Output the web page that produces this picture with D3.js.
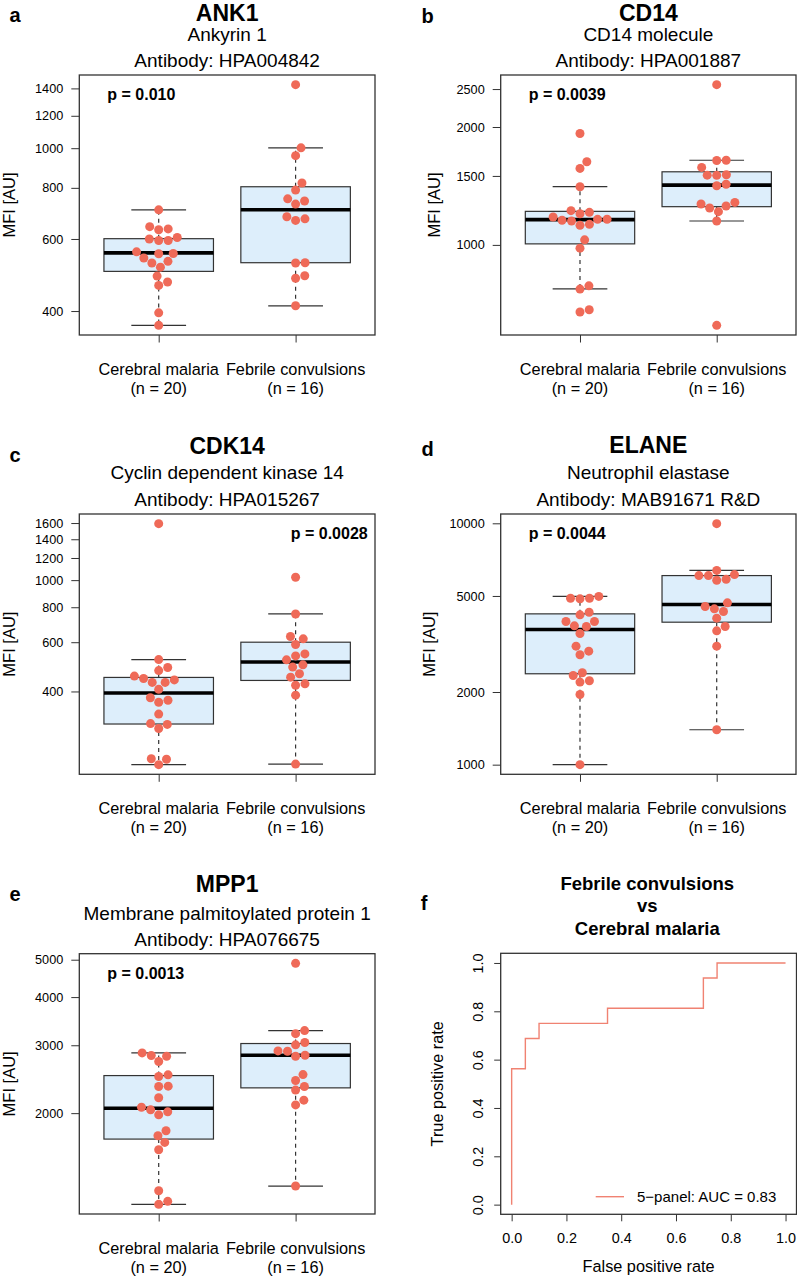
<!DOCTYPE html>
<html><head><meta charset="utf-8">
<script src="https://cdn.jsdelivr.net/npm/d3@7"></script>
<style>
body{margin:0;background:#fff}
svg{display:block}
text{font-family:"Liberation Sans",Arial,Helvetica,sans-serif;fill:#000}
</style>
</head><body>
<svg id="chart" width="797" height="1277"></svg>
<script>
// ---------------- DATA ----------------
const categories = ["Cerebral malaria", "Febrile convulsions"];
const groupN = [20, 16];
const panelLetters = ["a", "b", "c", "d", "e", "f"];
const genes = ["ANK1", "CD14", "CDK14", "ELANE", "MPP1"];
const proteinNames = ["Ankyrin 1", "CD14 molecule", "Cyclin dependent kinase 14", "Neutrophil elastase", "Membrane palmitoylated protein 1"];
const antibodies = ["Antibody: HPA004842", "Antibody: HPA001887", "Antibody: HPA015267", "Antibody: MAB91671 R&D", "Antibody: HPA076675"];
const pValues = ["p = 0.010", "p = 0.0039", "p = 0.0028", "p = 0.0044", "p = 0.0013"];
const yTicks = [
  [400, 600, 800, 1000, 1200, 1400],
  [1000, 1500, 2000, 2500],
  [400, 600, 800, 1000, 1200, 1400, 1600],
  [1000, 2000, 5000, 10000],
  [2000, 3000, 4000, 5000]
];

const ank1CM = [707, 643, 632, 635, 600, 595, 595, 605, 558, 552, 553, 539, 524, 529, 512, 487, 471, 462, 396, 369];
const ank1FC = [1430, 1002, 959, 822, 790, 752, 743, 730, 680, 666, 672, 524, 525, 481, 488, 412];
const cd14CM = [1925, 1630, 1568, 1408, 1223, 1211, 1201, 1178, 1156, 1151, 1162, 1163, 1122, 1129, 1030, 981, 771, 786, 674, 683];
const cd14FC = [2566, 1643, 1645, 1577, 1505, 1507, 1510, 1416, 1428, 1272, 1284, 1242, 1257, 1216, 1151, 623];
const cdk14CM = [1592, 520, 487, 475, 454, 440, 431, 431, 445, 407, 380, 366, 372, 332, 307, 305, 295, 230, 229, 219];
const cdk14FC = [1024, 757, 629, 617, 589, 545, 536, 519, 498, 489, 463, 450, 426, 421, 388, 220];
const elaneCM = [4894, 4863, 4894, 4980, 4175, 4282, 3919, 3760, 3736, 3919, 3494, 3097, 2953, 2852, 2403, 2342, 2198, 2226, 1954, 1000];
const elaneFC = [9968, 6380, 6073, 6073, 6131, 5810, 5866, 4681, 4522, 4422, 4310, 4045, 3736, 3585, 3097, 1395];
const mpp1CM = [2866, 2821, 2810, 2723, 2489, 2514, 2345, 2350, 2192, 2072, 2040, 1980, 2016, 1747, 1800, 1679, 1607, 1258, 1181, 1160];
const mpp1FC = [4893, 3215, 3274, 3007, 3049, 2900, 2895, 2810, 2826, 2430, 2518, 2295, 2345, 2101, 2161, 1294];

// box statistics: [lower whisker, Q1, median, Q3, upper whisker]
const ank1BoxCM = [369, 500, 555, 601, 707];
const ank1BoxFC = [412, 525, 707, 805, 1002];
const cd14BoxCM = [772, 1006, 1160, 1218, 1408];
const cd14BoxFC = [1151, 1252, 1421, 1537, 1645];
const cdk14BoxCM = [219, 306, 395, 449, 520];
const cdk14BoxFC = [220, 438, 510, 600, 757];
const elaneBoxCM = [1000, 2380, 3631, 4215, 4980];
const elaneBoxFC = [1395, 3893, 4607, 6073, 6380];
const mpp1BoxCM = [1160, 1713, 2060, 2503, 2866];
const mpp1BoxFC = [1294, 2326, 2826, 3031, 3274];

// ROC curve (panel f)
const rocTitle = ["Febrile convulsions", "vs", "Cerebral malaria"];
const rocFPR = [0, 0, 0.05, 0.1, 0.35, 0.7, 0.75, 1];
const rocTPR = [0, 0.5625, 0.6875, 0.75, 0.8125, 0.9375, 1, 1];
const rocTicks = [0, 0.2, 0.4, 0.6, 0.8, 1.0];
const rocLegend = "5\u2212panel: AUC = 0.83";

const groupData = [[ank1CM, ank1FC], [cd14CM, cd14FC], [cdk14CM, cdk14FC], [elaneCM, elaneFC], [mpp1CM, mpp1FC]];
const boxData = [[ank1BoxCM, ank1BoxFC], [cd14BoxCM, cd14BoxFC], [cdk14BoxCM, cdk14BoxFC], [elaneBoxCM, elaneBoxFC], [mpp1BoxCM, mpp1BoxFC]];

// ---------------- LAYOUT / STYLE ----------------
const FRAME = "#333";
const DOT = "#EF6A58";
const BOXFILL = "#DDEEFB";
const ROCCOL = "#F08272";
const FONT_TITLE = 23, FONT_SUB = 19, FONT_TICK = 12.7, FONT_CAT = 16.3, FONT_YT = 16.5, FONT_P = 16, FONT_LET = 20;

const layout = [
  {left: 79.3, right: 375, top: 75, bottom: 335, lx: 15, ly: 22.3, tOff: [-54.5, -34.3, -8.3], pEnd: false, ytOff: 64.3},
  {left: 500.7, right: 796, top: 75, bottom: 335, lx: 427.7, ly: 23, tOff: [-54.5, -34.3, -8.3], pEnd: false, ytOff: 61},
  {left: 79.3, right: 375, top: 514, bottom: 774.3, lx: 15, ly: 461.7, tOff: [-60.3, -34.7, -8.3], pEnd: true, ytOff: 64.3},
  {left: 500.7, right: 796, top: 514, bottom: 774.3, lx: 427.7, ly: 456, tOff: [-60.7, -34.7, -8.3], pEnd: false, ytOff: 66},
  {left: 79.3, right: 375, top: 953.7, bottom: 1214, lx: 15, ly: 900.7, tOff: [-61.4, -33.7, -7.7], pEnd: false, ytOff: 64.3}
];

const svg = d3.select("#chart");

// beeswarm (swarm method) in pixel space
function swarm(ys, vals, d) {
  const order = vals.map((v, i) => i).sort((a, b) => vals[a] - vals[b]);
  const xs = new Array(ys.length);
  const placed = [];
  order.forEach(i => {
    const yi = ys[i];
    const cands = [0];
    placed.forEach(j => {
      const dy = Math.abs(ys[j] - yi);
      if (dy < d) {
        const dx = Math.sqrt(d * d - dy * dy);
        cands.push(xs[j] + dx, xs[j] - dx);
      }
    });
    const ok = cands.filter(c => placed.every(j => {
      const dx = c - xs[j], dy = ys[j] - yi;
      return dx * dx + dy * dy >= d * d - 0.01;
    }));
    ok.sort((a, b) => (Math.abs(a) - Math.abs(b)) || (b - a));
    xs[i] = ok[0];
    placed.push(i);
  });
  return xs;
}

function drawBoxPanel(i) {
  const L = layout[i];
  const g = svg.append("g");
  const all = groupData[i][0].concat(groupData[i][1]);
  const [mn, mx] = d3.extent(all);
  const lmn = Math.log10(mn), lmx = Math.log10(mx), pad = (lmx - lmn) * 0.04;
  const y = d3.scaleLog().domain([Math.pow(10, lmn - pad), Math.pow(10, lmx + pad)]).range([L.bottom, L.top]);
  const x = d3.scaleLinear().domain([0.42, 2.58]).range([L.left, L.right]);
  const bw = x(1.4) - x(0.6);

  // y axis
  const ya = g.append("g").attr("transform", `translate(${L.left},0)`)
    .call(d3.axisLeft(y).tickValues(yTicks[i]).tickFormat(d3.format("d")).tickSize(8).tickPadding(8));
  ya.select(".domain").remove();
  ya.selectAll("line").attr("stroke", FRAME).attr("stroke-width", 1);
  ya.selectAll("text").attr("font-size", FONT_TICK).attr("font-family", null).attr("fill", "#000");

  // x axis ticks
  const xa = g.append("g").attr("transform", `translate(0,${L.bottom})`)
    .call(d3.axisBottom(x).tickValues([1, 2]).tickFormat("").tickSize(7.5));
  xa.select(".domain").remove();
  xa.selectAll("line").attr("stroke", FRAME).attr("stroke-width", 1);

  // category labels
  categories.forEach((c, k) => {
    g.append("text").attr("x", x(k + 1)).attr("y", L.bottom + 40).attr("text-anchor", "middle")
      .attr("font-size", FONT_CAT).text(c);
    g.append("text").attr("x", x(k + 1)).attr("y", L.bottom + 59).attr("text-anchor", "middle")
      .attr("font-size", FONT_CAT).text(`(n = ${groupN[k]})`);
  });

  // boxes
  boxData[i].forEach((b, k) => {
    const cx = x(k + 1);
    const [lo, q1, med, q3, hi] = b;
    g.append("line").attr("x1", cx).attr("x2", cx).attr("y1", y(q3)).attr("y2", y(hi))
      .attr("stroke", FRAME).attr("stroke-width", 1.2).attr("stroke-dasharray", "4,4");
    g.append("line").attr("x1", cx).attr("x2", cx).attr("y1", y(q1)).attr("y2", y(lo))
      .attr("stroke", FRAME).attr("stroke-width", 1.2).attr("stroke-dasharray", "4,4");
    [lo, hi].forEach(v => {
      g.append("line").attr("x1", cx - bw / 4).attr("x2", cx + bw / 4).attr("y1", y(v)).attr("y2", y(v))
        .attr("stroke", FRAME).attr("stroke-width", 1.2);
    });
    g.append("rect").attr("x", cx - bw / 2).attr("width", bw).attr("y", y(q3)).attr("height", y(q1) - y(q3))
      .attr("fill", BOXFILL).attr("stroke", FRAME).attr("stroke-width", 1.2);
    g.append("line").attr("x1", cx - bw / 2).attr("x2", cx + bw / 2).attr("y1", y(med)).attr("y2", y(med))
      .attr("stroke", "#000").attr("stroke-width", 3.6);
  });

  // points
  groupData[i].forEach((vals, k) => {
    const ys = vals.map(v => y(v));
    const xs = swarm(ys, vals, 9.5);
    g.selectAll(null).data(vals).enter().append("circle")
      .attr("cx", (v, j) => x(k + 1) + xs[j]).attr("cy", v => y(v)).attr("r", 4.5).attr("fill", DOT);
  });

  // frame
  g.append("rect").attr("x", L.left).attr("y", L.top).attr("width", L.right - L.left).attr("height", L.bottom - L.top)
    .attr("fill", "none").attr("stroke", FRAME).attr("stroke-width", 1.3);

  // p value
  g.append("text").attr("x", L.pEnd ? L.right - 7.3 : L.left + 28).attr("y", L.top + 25)
    .attr("text-anchor", L.pEnd ? "end" : "start").attr("font-weight", "bold").attr("font-size", FONT_P).text(pValues[i]);

  // y title
  g.append("text").attr("transform", `translate(${L.left - L.ytOff},${(L.top + L.bottom) / 2}) rotate(-90)`)
    .attr("text-anchor", "middle").attr("font-size", FONT_YT).text("MFI [AU]");

  // titles
  const tx = (L.left + L.right) / 2;
  g.append("text").attr("x", tx).attr("y", L.top + L.tOff[0]).attr("text-anchor", "middle")
    .attr("font-weight", "bold").attr("font-size", FONT_TITLE).text(genes[i]);
  g.append("text").attr("x", tx).attr("y", L.top + L.tOff[1]).attr("text-anchor", "middle")
    .attr("font-size", FONT_SUB).text(proteinNames[i]);
  g.append("text").attr("x", tx).attr("y", L.top + L.tOff[2]).attr("text-anchor", "middle")
    .attr("font-size", FONT_SUB).text(antibodies[i]);

  // panel letter
  g.append("text").attr("x", L.lx).attr("y", L.ly).attr("text-anchor", "middle")
    .attr("font-weight", "bold").attr("font-size", FONT_LET).text(panelLetters[i]);
}

for (let i = 0; i < 5; i++) drawBoxPanel(i);

// ---------------- ROC panel ----------------
(function () {
  const F = {left: 500.7, right: 796.5, top: 953.3, bottom: 1214.3};
  const g = svg.append("g");
  const x = d3.scaleLinear().domain([-0.04, 1.04]).range([F.left, F.right]);
  const y = d3.scaleLinear().domain([-0.04, 1.04]).range([F.bottom, F.top]);

  const xa = g.append("g").attr("transform", `translate(0,${F.bottom})`)
    .call(d3.axisBottom(x).tickValues(rocTicks).tickFormat(d3.format(".1f")).tickSize(7).tickPadding(11.8));
  xa.select(".domain").remove();
  xa.selectAll("line").attr("stroke", FRAME);
  xa.selectAll("text").attr("font-size", 14.4).attr("font-family", null).attr("fill", "#000");

  const ya = g.append("g").attr("transform", `translate(${F.left},0)`)
    .call(d3.axisLeft(y).tickValues(rocTicks).tickFormat(d3.format(".1f")).tickSize(6.5));
  ya.select(".domain").remove();
  ya.selectAll("line").attr("stroke", FRAME);
  ya.selectAll("text").attr("font-size", 14.4).attr("font-family", null).attr("fill", "#000")
    .attr("x", 0).attr("dy", 0).attr("text-anchor", "middle").attr("transform", "translate(-17.4,0) rotate(-90)");

  const line = d3.line().x(d => x(d[0])).y(d => y(d[1])).curve(d3.curveStepAfter);
  g.append("path").datum(rocFPR.map((f, k) => [f, rocTPR[k]])).attr("d", line)
    .attr("fill", "none").attr("stroke", ROCCOL).attr("stroke-width", 1.4);

  g.append("rect").attr("x", F.left).attr("y", F.top).attr("width", F.right - F.left).attr("height", F.bottom - F.top)
    .attr("fill", "none").attr("stroke", FRAME).attr("stroke-width", 1.3);

  // legend
  g.append("line").attr("x1", 595.7).attr("x2", 624).attr("y1", 1196.7).attr("y2", 1196.7)
    .attr("stroke", ROCCOL).attr("stroke-width", 1.4);
  g.append("text").attr("x", 637).attr("y", 1201.7).attr("font-size", 15).text(rocLegend);

  // axis titles
  g.append("text").attr("x", (F.left + F.right) / 2).attr("y", 1271.7).attr("text-anchor", "middle")
    .attr("font-size", 16.3).text("False positive rate");
  g.append("text").attr("transform", `translate(443,${(F.top + F.bottom) / 2}) rotate(-90)`)
    .attr("text-anchor", "middle").attr("font-size", 16.3).text("True positive rate");

  // title
  const tb = [890, 911.7, 935];
  rocTitle.forEach((t, k) => {
    g.append("text").attr("x", 647.3).attr("y", tb[k]).attr("text-anchor", "middle")
      .attr("font-weight", "bold").attr("font-size", 18.5).text(t);
  });
  g.append("text").attr("x", 424).attr("y", 910).attr("text-anchor", "middle")
    .attr("font-weight", "bold").attr("font-size", FONT_LET).text(panelLetters[5]);
})();
</script>
</body></html>
